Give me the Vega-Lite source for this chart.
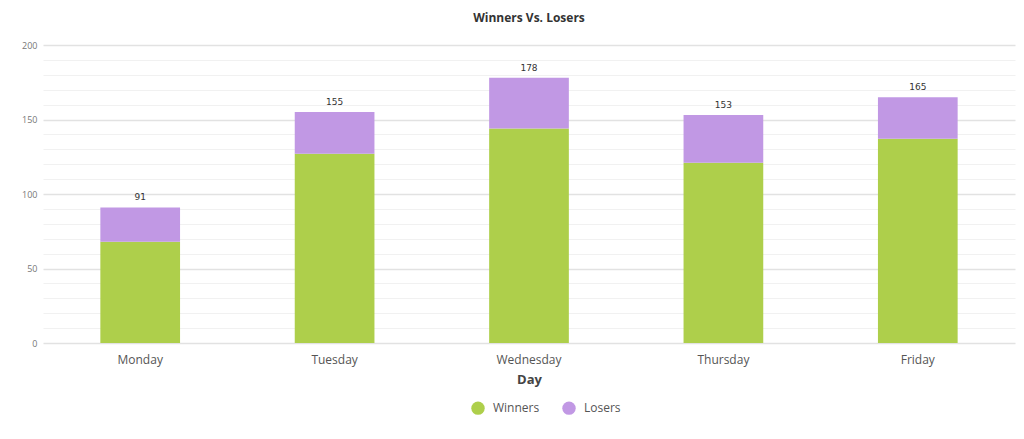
{
  "$schema": "https://vega.github.io/schema/vega-lite/v6.json",
  "autosize": "none",
  "width": 972,
  "height": 298,
  "padding": {"left": 43, "top": 45, "right": 9, "bottom": 96},
  "background": "white",
  "title": {"text": "Winners Vs. Losers", "fontSize": 12, "fontWeight": "bold", "font": "Open Sans", "color": "#333333", "anchor": "middle", "frame": "group", "offset": 16},
  "config": {"view": {"stroke": null}, "font": "Open Sans"},
  "data": {"values": [
    {"day": "Monday", "type": "Winners", "value": 68},
    {"day": "Monday", "type": "Losers", "value": 23},
    {"day": "Tuesday", "type": "Winners", "value": 127},
    {"day": "Tuesday", "type": "Losers", "value": 28},
    {"day": "Wednesday", "type": "Winners", "value": 144},
    {"day": "Wednesday", "type": "Losers", "value": 34},
    {"day": "Thursday", "type": "Winners", "value": 121},
    {"day": "Thursday", "type": "Losers", "value": 32},
    {"day": "Friday", "type": "Winners", "value": 137},
    {"day": "Friday", "type": "Losers", "value": 28}
  ]},
  "encoding": {
    "x": {"field": "day", "type": "nominal", "sort": ["Monday", "Tuesday", "Wednesday", "Thursday", "Friday"],
      "scale": {"paddingInner": 0.59, "paddingOuter": 0.295},
      "axis": {"title": "Day", "titleFontSize": 13, "titleFontWeight": "bold", "titleColor": "#444444", "titlePadding": 8, "labelAngle": 0, "labelFontSize": 12, "labelColor": "#555555", "labelPadding": 11, "domain": false, "ticks": false, "grid": false}}
  },
  "layer": [
    {
      "mark": {"type": "bar"},
      "encoding": {
        "y": {"field": "value", "type": "quantitative", "aggregate": "sum", "stack": "zero",
          "scale": {"domain": [0, 200], "nice": false},
          "axis": {"title": null, "values": [0,10,20,30,40,50,60,70,80,90,100,110,120,130,140,150,160,170,180,190,200],
            "tickCount": 100,
            "labelExpr": "datum.value % 50 === 0 ? datum.label : ''", "labelFontSize": 9, "labelColor": "#777777", "labelPadding": 6,
            "labelOverlap": false, "labelBound": false,
            "domain": false, "ticks": false,
            "gridColor": {"condition": {"test": "datum.value % 50 === 0", "value": "#e2e2e2"}, "value": "#f1f1f1"},
            "gridWidth": {"condition": {"test": "datum.value % 50 === 0", "value": 1.5}, "value": 1}}},
        "color": {"field": "type", "type": "nominal",
          "scale": {"domain": ["Winners", "Losers"], "range": ["#aecf4b", "#c198e4"]},
          "legend": {"title": null, "orient": "none", "legendX": 428, "legendY": 356, "direction": "horizontal", "symbolType": "circle", "symbolSize": 180, "symbolStrokeWidth": 0, "labelFontSize": 12, "labelColor": "#555555", "columnPadding": 22, "labelOffset": 8}},
        "order": {"field": "type", "sort": "descending"}
      }
    },
    {
      "transform": [{"aggregate": [{"op": "sum", "field": "value", "as": "total"}], "groupby": ["day"]}],
      "mark": {"type": "text", "dy": -10, "fontSize": 9, "color": "#333333", "font": "DejaVu Sans"},
      "encoding": {
        "y": {"field": "total", "type": "quantitative"},
        "text": {"field": "total", "type": "quantitative"}
      }
    }
  ]
}
